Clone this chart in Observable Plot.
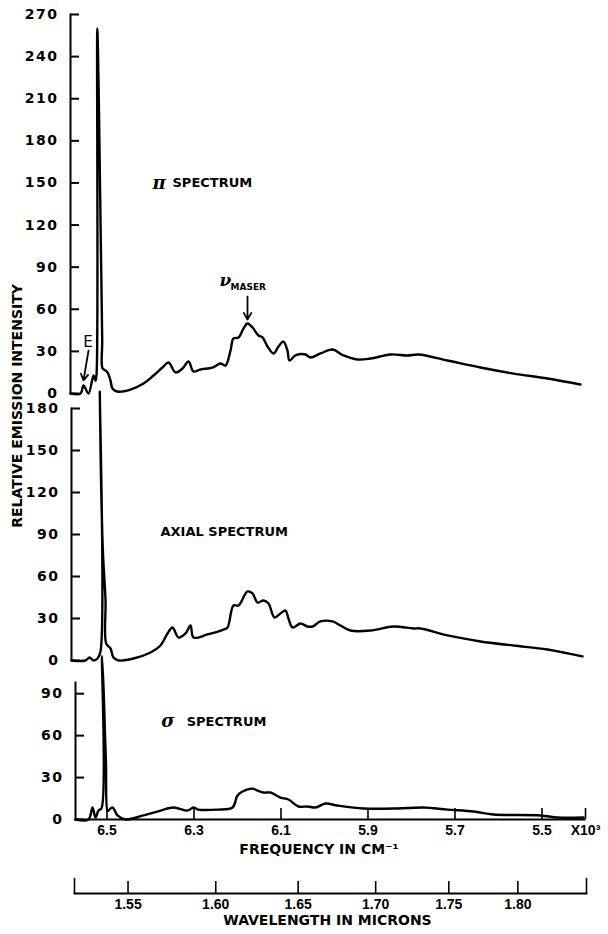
<!DOCTYPE html>
<html>
<head>
<meta charset="utf-8">
<script src="https://cdn.jsdelivr.net/npm/d3@7"></script>
<script src="https://cdn.jsdelivr.net/npm/@observablehq/plot@0.6"></script>
<style>
  body { margin: 0; background: #fff; }
  #chart { width: 608px; height: 934px; position: relative; background: #fff; }
  #chart svg { display: block; overflow: visible; }
  g[aria-label="y-axis tick label"] text { letter-spacing: 1.5px; }
  g[aria-label="lbl"] text { letter-spacing: 1.2px; }
  g[aria-label="title"] text { letter-spacing: 1.9px; }
</style>
</head>
<body>
<div id="chart"></div>
<script>
// Frequency in 10^3 cm^-1, relative emission intensity
const piFreq = [6.5839, 6.5609, 6.5540, 6.5425, 6.5310, 6.5264, 6.5240, 6.5223, 6.5184, 6.5149, 6.5110, 6.5103, 6.5034, 6.4989, 6.4920, 6.4874, 6.4759, 6.4460, 6.4161, 6.3931, 6.3724, 6.3586, 6.3425, 6.3264, 6.3126, 6.3011, 6.2851, 6.2575, 6.2391, 6.2276, 6.2161, 6.2092, 6.1977, 6.1862, 6.1770, 6.1655, 6.1517, 6.1425, 6.1310, 6.1172, 6.1057, 6.0943, 6.0851, 6.0805, 6.0667, 6.0437, 6.0322, 6.0092, 5.9816, 5.9563, 5.9241, 5.8943, 5.8483, 5.8092, 5.7839, 5.7172, 5.6414, 5.5655, 5.4874, 5.4115];
const piIntensity = [0, 0, 5.7, 0, 12.8, 9, 14, 260, 201, 123, 38, 18, 16.4, 15, 9.3, 3.6, 1.4, 2.8, 7.1, 12.8, 18.5, 22.1, 15, 17.8, 22.8, 15.7, 17.1, 18.5, 21.4, 19.9, 30.6, 39.2, 39.9, 46.3, 49.9, 47, 41.3, 39.9, 33.5, 28.5, 33.5, 37, 30.6, 23.5, 27.1, 27.8, 25.6, 28.5, 31.3, 27.1, 24.2, 24.9, 27.8, 27.1, 27.8, 23.5, 18.5, 14.2, 10.7, 6.4];

const axialFreq = [6.5816, 6.5494, 6.5402, 6.5310, 6.5218, 6.5149, 6.5166, 6.5138, 6.5092, 6.5034, 6.5018, 6.4920, 6.4851, 6.4736, 6.4391, 6.4000, 6.3770, 6.3609, 6.3494, 6.3356, 6.3195, 6.3080, 6.3011, 6.2690, 6.2322, 6.2230, 6.2092, 6.1977, 6.1770, 6.1655, 6.1540, 6.1402, 6.1287, 6.1149, 6.1011, 6.0897, 6.0828, 6.0736, 6.0552, 6.0391, 6.0276, 6.0092, 5.9816, 5.9632, 5.9402, 5.8943, 5.8414, 5.7954, 5.7793, 5.7172, 5.6414, 5.5655, 5.4874, 5.4069];
const axialIntensity = [0, 0, 2.1, 0, 1.4, 6.4, 192, 128.6, 76.4, 42.9, 12.1, 8.6, 2.1, 0, 1.4, 5.7, 10.7, 19.3, 23.6, 16.4, 19.3, 25, 16.4, 18.6, 22.1, 23.6, 39.3, 39.3, 49.3, 47.9, 41.4, 42.9, 40.7, 30.7, 33.6, 35.7, 30, 23.6, 26.4, 24.3, 24.3, 27.9, 27.9, 25, 21.4, 21.4, 24.3, 22.9, 22.9, 17.9, 13.6, 10.7, 7.9, 2.9];

const sigmaFreq = [6.5724, 6.5425, 6.5333, 6.5264, 6.5195, 6.5126, 6.5115, 6.5069, 6.5046, 6.5023, 6.4989, 6.4966, 6.4874, 6.4759, 6.4575, 6.4161, 6.3770, 6.3471, 6.3149, 6.3011, 6.2897, 6.2460, 6.2115, 6.2000, 6.1885, 6.1655, 6.1540, 6.1402, 6.1241, 6.1011, 6.0828, 6.0598, 6.0391, 6.0207, 5.9977, 5.9701, 5.9103, 5.8322, 5.7724, 5.7172, 5.6575, 5.6115, 5.5034, 5.4644, 5.4046];
const sigmaIntensity = [0, 0, 8.6, 1.4, 6.4, 8, 117, 85, 61.4, 40, 6.4, 6.4, 8.6, 2.9, 0, 2.9, 6.4, 8.6, 6.4, 8.6, 7.1, 7.1, 8.6, 17.1, 20, 22.1, 20.7, 19.3, 19.3, 15.7, 14.3, 9.3, 9.3, 8.6, 11.4, 10, 7.9, 7.9, 8.6, 7.1, 5.7, 3.6, 2.9, 1.4, 1.4];

const piTicks = [0, 30, 60, 90, 120, 150, 180, 210, 240, 270];
const axialTicks = [0, 30, 60, 90, 120, 150, 180];
const sigmaTicks = [0, 30, 60, 90];
const freqTicks = [6.5, 6.3, 6.1, 5.9, 5.7, 5.5, 5.4];
const freqTickLabels = ["6.5", "6.3", "6.1", "5.9", "5.7", "5.5", "X10³"];
const wavelengths = [1.55, 1.60, 1.65, 1.70, 1.75, 1.80];

const toRows = (f, v) => f.map((d, i) => ({f: d, v: v[i]}));
const piData = toRows(piFreq, piIntensity);
const axialData = toRows(axialFreq, axialIntensity);
const sigmaData = toRows(sigmaFreq, sigmaIntensity);

const baseStyle = {
  background: "transparent",
  overflow: "visible",
  fontFamily: "'DejaVu Sans', sans-serif",
  fontSize: "14px",
  fontWeight: "bold",
  color: "black"
};
const lineOpts = {x: "f", y: "v", stroke: "black", strokeWidth: 2.4, strokeLinejoin: "round", strokeLinecap: "round", curve: "catmull-rom"};
const yAxisOpts = {tickSize: -9, tickPadding: 21, strokeWidth: 2, fontSize: 14, label: null};

const chart = document.getElementById("chart");

// pi spectrum
chart.append(Plot.plot({
  width: 608, height: 398,
  marginTop: 14, marginBottom: 5, marginLeft: 70, marginRight: 24,
  x: {domain: [6.5839, 5.4023], axis: null, label: null},
  y: {domain: [0, 270], axis: null, label: null},
  style: baseStyle,
  marks: [
    Plot.frame({anchor: "left", strokeWidth: 2}),
    Plot.axisY({ticks: piTicks, ...yAxisOpts}),
    Plot.line(piData, lineOpts),
    Plot.text(["π"], {x: 6.3805, y: 150, fontStyle: "italic", fontSize: 18, fontFamily: "'DejaVu Serif', serif"}),
    Plot.text(["SPECTRUM"], {x: 6.3494, y: 150, textAnchor: "start", fontSize: 13, ariaLabel: "lbl"}),
    Plot.text(["ν"], {x: 6.2276, y: 80.5, fontStyle: "italic", fontSize: 17, fontFamily: "'DejaVu Serif', serif"}),
    Plot.text(["MASER"], {x: 6.2161, y: 75.5, textAnchor: "start", fontSize: 9}),
    Plot.arrow([0], {x1: 6.177, y1: 69, x2: 6.177, y2: 52.7, strokeWidth: 1.8, headLength: 7}),
    Plot.text(["E"], {x: 6.5437, y: 36.3, fontSize: 15, fontWeight: "normal"}),
    Plot.arrow([0], {x1: 6.5425, y1: 30.6, x2: 6.554, y2: 9.3, strokeWidth: 1.8, headLength: 6}),
    Plot.text(["RELATIVE EMISSION INTENSITY"], {frameAnchor: "left", textAnchor: "middle", rotate: -90, dx: -53, dy: 202, fontSize: 14, ariaLabel: "title"})
  ]
}));

// axial spectrum
chart.append(Plot.plot({
  width: 608, height: 274,
  marginTop: 10, marginBottom: 12, marginLeft: 71, marginRight: 24,
  x: {domain: [6.5816, 5.4023], axis: null, label: null},
  y: {domain: [0, 180], axis: null, label: null},
  style: baseStyle,
  marks: [
    Plot.frame({anchor: "left", strokeWidth: 2}),
    Plot.axisY({ticks: axialTicks, ...yAxisOpts}),
    Plot.line(axialData, lineOpts),
    Plot.text(["AXIAL SPECTRUM"], {x: 6.377, y: 92, textAnchor: "start", fontSize: 13, ariaLabel: "lbl"})
  ]
}));

// sigma spectrum with frequency axis
chart.append(Plot.plot({
  width: 608, height: 191,
  marginTop: 10, marginBottom: 44, marginLeft: 75, marginRight: 24,
  x: {domain: [6.5724, 5.4023], axis: null, label: null},
  y: {domain: [0, 98], axis: null, label: null},
  style: baseStyle,
  marks: [
    Plot.frame({anchor: "left", strokeWidth: 2}),
    Plot.frame({anchor: "bottom", strokeWidth: 2}),
    Plot.axisY({ticks: sigmaTicks, ...yAxisOpts}),
    Plot.axisX({ticks: freqTicks, tickSize: -11, tickPadding: 17, strokeWidth: 1.6, label: null,
      tickFormat: d => freqTickLabels[freqTicks.indexOf(d)], fontSize: 14, fontFamily: "'Liberation Sans', sans-serif"}),
    Plot.line(sigmaData, lineOpts),
    Plot.text(["σ"], {x: 6.3598, y: 70, fontStyle: "italic", fontSize: 18, fontFamily: "'DejaVu Serif', serif"}),
    Plot.text(["SPECTRUM"], {x: 6.3168, y: 70, textAnchor: "start", fontSize: 13, ariaLabel: "lbl"}),
    Plot.text(["FREQUENCY IN CM⁻¹"], {frameAnchor: "bottom", dx: -11, dy: 34, fontSize: 14, ariaLabel: "title"})
  ]
}));

// wavelength axis
chart.append(Plot.plot({
  width: 608, height: 71,
  marginTop: 29, marginBottom: 41, marginLeft: 74, marginRight: 22,
  x: {domain: [6.5747, 5.3977], axis: null, label: null},
  y: {axis: null, label: null},
  style: baseStyle,
  marks: [
    Plot.frame({anchor: "bottom", strokeWidth: 2}),
    Plot.axisX({ticks: wavelengths.map(l => 10 / l), tickSize: -12, tickPadding: 18, strokeWidth: 1.6, label: null,
      tickFormat: d => (10 / d).toFixed(2), fontSize: 14, fontFamily: "'Liberation Sans', sans-serif"}),
    Plot.axisX({ticks: [6.5747, 5.3977], tickSize: -15, strokeWidth: 1.6, label: null, tickFormat: () => ""}),
    Plot.text(["WAVELENGTH IN MICRONS"], {frameAnchor: "bottom", dx: -3, dy: 31, fontSize: 14, ariaLabel: "title"})
  ]
}));
</script>
</body>
</html>
